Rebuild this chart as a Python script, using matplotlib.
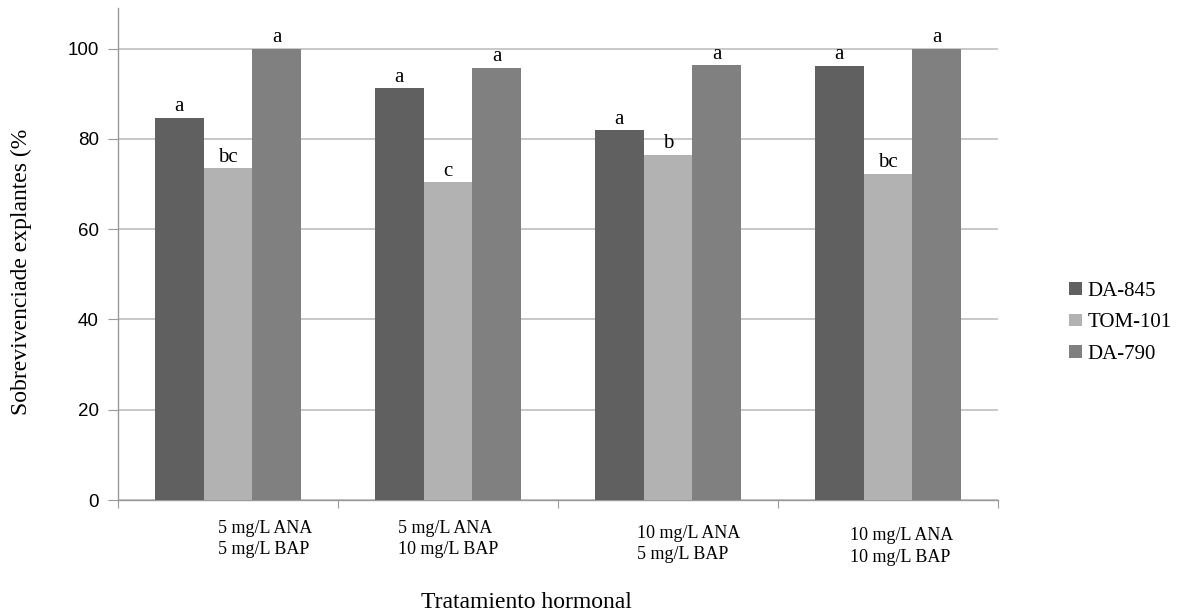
import matplotlib
matplotlib.use("Agg")
import matplotlib.pyplot as plt
import matplotlib.transforms as mtransforms
import numpy as np

# Data
treatments = ["5 mg/L ANA\n5 mg/L BAP", "5 mg/L ANA\n10 mg/L BAP",
              "10 mg/L ANA\n5 mg/L BAP", "10 mg/L ANA\n10 mg/L BAP"]
series = ["DA-845", "TOM-101", "DA-790"]
da845 = [84.7, 91.2, 81.9, 96.2]
tom101 = [73.5, 70.4, 76.5, 72.3]
da790 = [100.0, 95.8, 96.3, 100.0]
letters_da845 = ["a", "a", "a", "a"]
letters_tom101 = ["bc", "c", "b", "bc"]
letters_da790 = ["a", "a", "a", "a"]

colors = ["#606060", "#b2b2b2", "#808080"]
serif = ["Liberation Serif", "DejaVu Serif"]
sans = ["Liberation Sans", "DejaVu Sans"]

fig = plt.figure(figsize=(11.81, 6.12), dpi=100)
ax = fig.add_axes([0.1, 0.183, 0.745, 0.804])

x = np.arange(len(treatments))
width = 0.222
values = [da845, tom101, da790]
letters = [letters_da845, letters_tom101, letters_da790]
for i, (vals, lab, col, lets) in enumerate(zip(values, series, colors, letters)):
    pos = x + (i - 1) * width
    ax.bar(pos, vals, width, color=col, label=lab, zorder=3)
    for px, v, t in zip(pos, vals, lets):
        ax.text(px, v + 0.3, t, ha="center", va="bottom",
                family=serif, fontsize=15, zorder=4)

ax.set_xlim(-0.5, len(treatments) - 0.5)
ax.set_ylim(0, 109)
ax.set_yticks(np.arange(0, 101, 20))
ax.yaxis.grid(True, color="#bfbfbf", linewidth=1.2, zorder=0)
ax.tick_params(axis="y", length=7, color="#999999", labelsize=13.5, pad=7)
for lbl in ax.get_yticklabels():
    lbl.set_family(sans)

# category boundary ticks on x axis
ax.set_xticks(np.arange(-0.5, len(treatments), 1.0))
ax.set_xticklabels([])
ax.tick_params(axis="x", length=6, color="#999999", direction="out")

for side in ["top", "right"]:
    ax.spines[side].set_visible(False)
for side in ["left", "bottom"]:
    ax.spines[side].set_color("#999999")
    ax.spines[side].set_linewidth(1.0)

# treatment labels below the axis (slightly offset as in the original)
trans = mtransforms.blended_transform_factory(ax.transData, ax.transAxes)
offsets = [0.17, 0.0, 0.095, 0.06]
yoffs = [-0.079, -0.079, -0.089, -0.095]
for xi, t, dx, dy in zip(x, treatments, offsets, yoffs):
    ax.text(xi + dx, dy, t, transform=trans, ha="center", va="center",
            multialignment="left", family=serif, fontsize=13,
            linespacing=1.35)

fig.text(0.018, 0.555, "Sobrevivenciade explantes (%", rotation=90,
         ha="center", va="center", family=serif, fontsize=17)
fig.text(0.446, 0.016, "Tratamiento hormonal", ha="center", va="center",
         family=serif, fontsize=17)

leg = ax.legend(loc="center left", bbox_to_anchor=(1.06, 0.36), frameon=False,
                prop={"family": serif, "size": 15}, handlelength=0.58,
                handleheight=0.58, handletextpad=0.3, labelspacing=0.6)

fig.savefig("out.png", dpi=100)
